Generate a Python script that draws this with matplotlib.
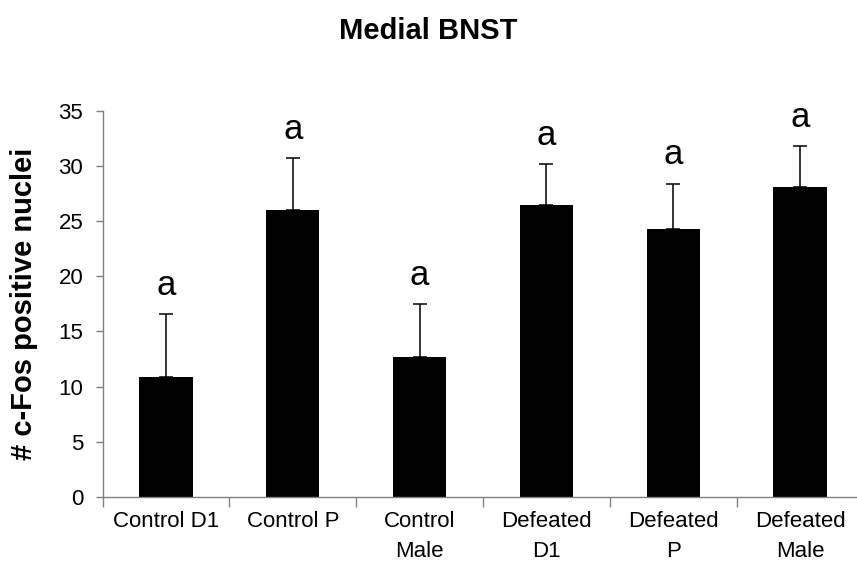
import matplotlib
matplotlib.use("Agg")
import matplotlib.pyplot as plt
import numpy as np

groups = ["Control D1", "Control P", "Control\nMale", "Defeated\nD1", "Defeated\nP", "Defeated\nMale"]
means = [10.9, 26.0, 12.7, 26.5, 24.25, 28.1]
sems = [5.65, 4.7, 4.75, 3.66, 4.15, 3.7]
letters = ["a", "a", "a", "a", "a", "a"]

plt.rcParams["font.family"] = ["Liberation Sans", "DejaVu Sans"]

W, H = 857, 582
fig = plt.figure(figsize=(W / 100, H / 100), dpi=100)
left, right, bottom, top = 102.6, 863.4, 497, 110.7
ax = fig.add_axes([left / W, (H - bottom) / H, (right - left) / W, (bottom - top) / H])

x = np.arange(len(groups))
ax.bar(x, means, width=0.42, color="black", zorder=2)
ax.errorbar(x, means, yerr=[np.zeros(len(sems)), sems], fmt="none",
            ecolor="black", elinewidth=1.1, capsize=5, capthick=1.1, zorder=3)

for xi, m, s, lab in zip(x, means, sems, letters):
    ax.annotate(lab, (xi, m + s), xytext=(0, 14), textcoords="offset points",
                ha="center", va="baseline", fontsize=25)

ax.set_xlim(-0.5, len(groups) - 0.5)
ax.set_ylim(0, 35)
ax.set_yticks(range(0, 36, 5))
ax.set_xticks(x)
ax.set_xticklabels(groups, fontsize=16, linespacing=1.6)
ax.set_xticks(np.arange(-0.5, len(groups), 1.0), minor=True)
ax.tick_params(axis="x", which="major", length=0, pad=10)
ax.tick_params(axis="x", which="minor", length=7, color="#808080", width=1)
ax.tick_params(axis="y", labelsize=16, length=5, color="#808080", width=1, pad=9)

for side in ["top", "right"]:
    ax.spines[side].set_visible(False)
for side in ["left", "bottom"]:
    ax.spines[side].set_color("#808080")
    ax.spines[side].set_linewidth(1)

ax.set_ylabel("# c-Fos positive nuclei", fontsize=21, fontweight="bold")
ax.yaxis.set_label_coords(-(left - 38) / (right - left), 0.5)

fig.suptitle("Medial BNST", fontsize=21, fontweight="bold", x=0.5, y=1 - 39 / H, va="baseline")

fig.savefig("out.png", dpi=100)
